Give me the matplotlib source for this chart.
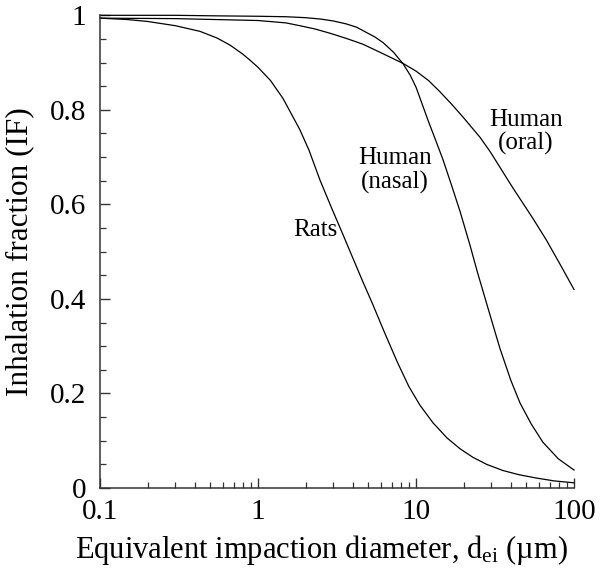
import numpy as np
import matplotlib
matplotlib.use("Agg")
import matplotlib.pyplot as plt
from matplotlib.ticker import MultipleLocator, LogLocator, FuncFormatter, NullFormatter

plt.rcParams['font.family'] = ['Liberation Serif', 'DejaVu Serif']
plt.rcParams['mathtext.fontset'] = 'custom'
plt.rcParams['mathtext.rm'] = 'Liberation Serif'
plt.rcParams['mathtext.it'] = 'Liberation Serif:italic'

# values (diameter in um, inhalation fraction)
rats_d = [0.1, 0.15, 0.2, 0.3, 0.43, 0.55, 0.665, 0.8, 0.89, 1.0, 1.2, 1.44, 1.84, 2.1,
          2.47, 2.9, 3.46, 4.0, 4.6, 5.3, 6.3, 7.6, 9, 10.6, 12.8, 15.7, 19, 22.9, 28,
          35.5, 45, 58, 75, 100]
rats_if = [0.994, 0.991, 0.987, 0.978, 0.966, 0.952, 0.937, 0.918, 0.905, 0.89, 0.862,
           0.824, 0.758, 0.715, 0.651, 0.595, 0.535, 0.485, 0.437, 0.39, 0.33, 0.267,
           0.215, 0.175, 0.138, 0.106, 0.083, 0.065, 0.05, 0.037, 0.028, 0.021, 0.015, 0.011]

nasal_d = [0.1, 0.3, 0.5, 1, 1.5, 2, 2.5, 3, 3.6, 4.2, 4.9, 5.5, 6.2, 7.2, 8.3, 9.2, 10,
           12, 13.2, 14.8, 16.8, 19, 21.9, 24.5, 28, 31, 34, 39.8, 45.5, 53.7, 63.5,
           79.4, 100]
nasal_if = [1.0, 1.0, 0.999, 0.998, 0.997, 0.995, 0.992, 0.988, 0.982, 0.975, 0.963,
            0.954, 0.942, 0.922, 0.897, 0.873, 0.848, 0.775, 0.739, 0.695, 0.64, 0.585,
            0.515, 0.456, 0.39, 0.34, 0.295, 0.228, 0.18, 0.135, 0.097, 0.062, 0.038]

oral_d = [0.1, 0.3, 1, 1.5, 1.84, 2.3, 2.86, 3.63, 4.6, 5.9, 8.3, 10, 12, 14.2, 16.8,
          19.8, 25.4, 29.4, 41, 55, 67, 82, 100]
oral_if = [0.994, 0.993, 0.989, 0.984, 0.978, 0.971, 0.962, 0.951, 0.939, 0.922, 0.898,
           0.882, 0.862, 0.838, 0.812, 0.785, 0.742, 0.712, 0.635, 0.57, 0.524, 0.472,
           0.42]

labels = ['Rats', 'Human\n(nasal)', 'Human\n(oral)']

fig = plt.figure(figsize=(6, 5.8), dpi=100)
ax = fig.add_axes([0.1667, 0.1586, 0.79, 0.815])

for d, f in [(rats_d, rats_if), (nasal_d, nasal_if), (oral_d, oral_if)]:
    ax.plot(d, f, color='black', lw=0.9, clip_on=False)

ax.set_xscale('log')
ax.set_xlim(0.1, 100)
ax.set_ylim(0, 1)

# curve labels
ax.text(2.29, 0.545, labels[0], fontsize=18, ha='center', va='center')
ax.text(7.36, 0.672, labels[1], fontsize=18, ha='center', va='center', linespacing=1.1)
ax.text(49.7, 0.753, labels[2], fontsize=18, ha='center', va='center', linespacing=1.1)

for s in ['top', 'right']:
    ax.spines[s].set_visible(False)
for s in ['left', 'bottom']:
    ax.spines[s].set_linewidth(1.1)
    ax.spines[s].set_color('#333333')

ax.yaxis.set_major_locator(MultipleLocator(0.2))
ax.yaxis.set_minor_locator(MultipleLocator(0.05))
ax.xaxis.set_major_locator(LogLocator(base=10))
ax.xaxis.set_minor_locator(LogLocator(base=10, subs=np.arange(2, 10)))
ax.xaxis.set_minor_formatter(NullFormatter())
fmt = FuncFormatter(lambda v, p: '%g' % v)
ax.xaxis.set_major_formatter(fmt)
ax.yaxis.set_major_formatter(fmt)

ax.tick_params(which='major', direction='in', length=7, width=1.0, color='#333333',
               labelsize=21)
ax.tick_params(which='minor', direction='in', length=4, width=0.9, color='#333333')
ax.tick_params(axis='y', which='major', pad=10)
ax.tick_params(axis='x', which='major', pad=8)

ax.set_xlabel(r'Equivalent impaction diameter, d$_{\mathrm{ei}}$ (µm)', fontsize=22)
ax.xaxis.set_label_coords(0.468, -0.095)
ax.set_ylabel('Inhalation fraction (IF)', fontsize=22.5, labelpad=11)

fig.savefig('out.png', dpi=100)
